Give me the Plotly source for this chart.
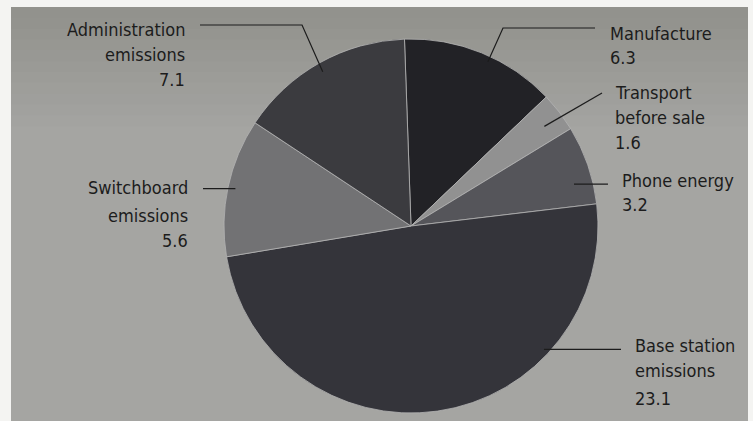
import math
import plotly.graph_objects as go

# ---- data ----
categories = ["Manufacture", "Transport before sale", "Phone energy",
              "Base station emissions", "Switchboard emissions", "Administration emissions"]
values = [6.3, 1.6, 3.2, 23.1, 5.6, 7.1]
label_lines = [
    ["Manufacture", "6.3"],
    ["Transport", "before sale", "1.6"],
    ["Phone energy", "3.2"],
    ["Base station", "emissions", "23.1"],
    ["Switchboard", "emissions", "5.6"],
    ["Administration", "emissions", "7.1"],
]
slice_colors = ["#222226", "#919191", "#55555a", "#34343a", "#727274", "#3b3b3f"]

# ---- layout geometry (pixels) ----
W, H = 753, 421
CX, CY, R = 411, 226, 187
ROT = -2  # degrees, clockwise from 12 o'clock

def px(x):
    return x / W

def py(y):
    return 1 - y / H

label_layout = [
    dict(t=0.56, rf=0.97, elbow=(503, 28), end_x=595, text_x=608, side="left", ys=[33, 57]),
    dict(t=0.56, rf=0.89, elbow=None, end=(602, 93), text_x=613, side="left", ys=[92, 117, 142]),
    dict(t=0.69, rf=0.90, elbow=None, hx=608, text_x=620, side="left", ys=[180, 204]),
    dict(t=0.28, rf=0.97, elbow=None, hx=621, text_x=633, side="left", ys=[345, 370, 398]),
    dict(t=0.50, rf=0.96, elbow=None, hx=203, text_x=190, side="right", ys=[188, 215, 240]),
    dict(t=0.49, rf=0.95, elbow=(302, 25), end_x=200, text_x=187, side="right", ys=[29, 55, 80]),
]

total = sum(values)
FONT = "DejaVu Sans Condensed, Liberation Sans Narrow, Arial Narrow, sans-serif"
INK = "#1c1c1c"

fig = go.Figure(go.Pie(
    labels=categories,
    values=values,
    sort=False,
    direction="clockwise",
    rotation=ROT,
    marker=dict(colors=slice_colors, line=dict(color="#b4b4b4", width=0.8)),
    textinfo="none",
    hoverinfo="label+value",
    showlegend=False,
    domain=dict(x=[px(CX - R), px(CX + R)], y=[py(CY + R), py(CY - R)]),
))

shapes = []
# paper background with slight vertical shading (photo look)
bg_top, bg_bot = (146, 146, 141), (165, 165, 162)
shapes.append(dict(type="rect", xref="paper", yref="paper", layer="below",
                   x0=px(11), x1=px(748), y0=0, y1=py(7),
                   fillcolor="rgb(%d,%d,%d)" % bg_bot, line=dict(width=0)))
n = 12
band_h = 130.0
for i in range(n):
    f = i / (n - 1)
    c = tuple(int(bg_top[k] + (bg_bot[k] - bg_top[k]) * f) for k in range(3))
    ya = 7 + band_h * i / n
    yb = 7 + band_h * (i + 1) / n + 3
    shapes.append(dict(type="rect", xref="paper", yref="paper", layer="below",
                       x0=px(11), x1=px(748), y0=py(yb), y1=py(ya),
                       fillcolor="rgb(%d,%d,%d)" % c, line=dict(width=0)))

annotations = []
cum = 0.0
for i, v in enumerate(values):
    L = label_layout[i]
    a = math.radians(ROT + 360.0 * (cum + L["t"] * v) / total)
    ax = CX + L["rf"] * R * math.sin(a)
    ay = CY - L["rf"] * R * math.cos(a)
    pts = [(ax, ay)]
    if L.get("elbow"):
        ex, ey = L["elbow"]
        pts += [(ex, ey), (L["end_x"], ey)]
    elif L.get("end"):
        pts.append(L["end"])
    else:
        pts.append((L["hx"], ay))
    path = "M " + " L ".join("%.4f,%.4f" % (px(x), py(y)) for x, y in pts)
    shapes.append(dict(type="path", xref="paper", yref="paper", path=path,
                       line=dict(color=INK, width=1.2)))
    for line_txt, ly in zip(label_lines[i], L["ys"]):
        annotations.append(dict(
            x=px(L["text_x"]), y=py(ly), xref="paper", yref="paper",
            text=line_txt, showarrow=False,
            xanchor="left" if L["side"] == "left" else "right", yanchor="middle",
            font=dict(family=FONT, size=18, color=INK)))
    cum += v

fig.update_layout(
    width=W, height=H,
    margin=dict(l=0, r=0, t=0, b=0),
    paper_bgcolor="#f4f4f2",
    plot_bgcolor="#f4f4f2",
    shapes=shapes,
    annotations=annotations,
)

fig.write_html("out.html")
